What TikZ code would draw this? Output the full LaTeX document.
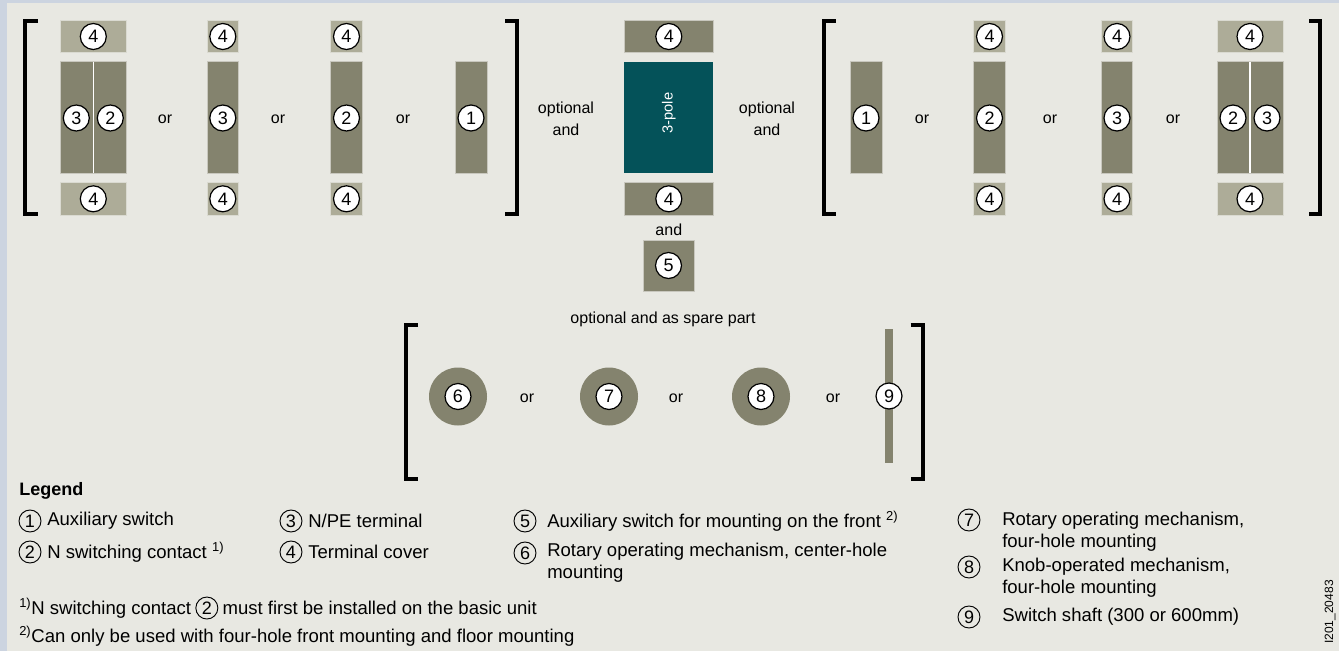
\documentclass[tikz,border=0pt]{standalone}
\usepackage{fontspec}
\setmainfont{Liberation Sans}
\usepackage{tikz}
\usetikzlibrary{positioning}
\definecolor{PaperGray}{RGB}{232,232,226}
\definecolor{FrameBlue}{RGB}{204,212,224}
\definecolor{PartOlive}{RGB}{132,131,110}
\definecolor{CoverSand}{RGB}{173,172,152}
\definecolor{PoleTeal}{RGB}{4,82,89}
\tikzset{
  part/.style={fill=PartOlive,draw=white!55!PartOlive,line width=0.5pt},
  cover/.style={fill=CoverSand,draw=white!55!CoverSand,line width=0.5pt},
  badge/.style={circle,draw=black,fill=white,line width=0.9pt,inner sep=0pt,
    minimum size=19.5pt,font=\fontsize{13.5}{13.5}\selectfont},
  lbadge/.style={circle,draw=black,line width=0.7pt,inner sep=0pt,
    minimum size=16.5pt,font=\fontsize{13.5}{13.5}\selectfont},
  word/.style={inner sep=0pt,font=\fontsize{12}{16.5}\selectfont,align=center},
  legtext/.style={inner sep=0pt,anchor=west,align=left,font=\fontsize{13.9}{16.5}\selectfont},
  brk/.style={draw=black,line width=3pt,line join=miter},
}
\begin{document}
\begin{tikzpicture}[x=0.75pt,y=-0.75pt]
\fill[FrameBlue] (0,0) rectangle (1339,651);
\fill[PaperGray] (7,3) rectangle (1339,651);
\useasboundingbox (0,0) rectangle (1339,651);
% basic unit in the middle
\draw[part] (624.3,20.7) rectangle (713.3,52.3);
\fill[PoleTeal] (624.3,61.7) rectangle (713.3,173.3);
\draw[part] (624.3,182.7) rectangle (713.3,215);
\draw[part] (643,240) rectangle (694,291);
\node[badge] (Ctop) at (668.8,36.5) {4};
\node[rotate=90,text=white,inner sep=0pt,font=\fontsize{11}{11}\selectfont] (pole) at (668.8,113) {3-pole};
\node[badge] (Cbot) at (668.8,198.8) {4};
\node[word] (Cand) at (668.8,230) {and};
\node[badge] (front) at (668.5,265.5) {5};
\node[word] (Lopt) at (566,119) {optional\\and};
\node[word] (Ropt) at (767,119) {optional\\and};
% add-on parts left and right
\foreach \cx/\num/\tag in {222.8/3/La,346.5/2/Lb,989.5/2/Rb,1117/3/Rc} {
  \draw[cover] (\cx-15.8,20.7) rectangle (\cx+15.8,52.3);
  \draw[part] (\cx-15.8,61.7) rectangle (\cx+15.8,173.3);
  \draw[cover] (\cx-15.8,182.7) rectangle (\cx+15.8,215);
  \node[badge] (\tag top) at (\cx,36.5) {4};
  \node[badge] (\tag mid) at (\cx,118) {\num};
  \node[badge] (\tag bot) at (\cx,198.8) {4};
}
\foreach \cx/\a/\b/\tag in {93.3/3/2/Lp,1250/2/3/Rp} {
  \draw[cover] (\cx-33,20.7) rectangle (\cx+33,52.3);
  \draw[part] (\cx-33,61.7) rectangle (\cx+33,173.3);
  \draw[white,line width=0.8pt] (\cx,61.7) -- (\cx,173.3);
  \draw[cover] (\cx-33,182.7) rectangle (\cx+33,215);
  \node[badge] (\tag top) at (\cx,36.5) {4};
  \node[badge] (\tag left) at (\cx-17,118) {\a};
  \node[badge] (\tag right) at (\cx+17,118) {\b};
  \node[badge] (\tag bot) at (\cx,198.8) {4};
}
\foreach \cx/\tag in {471/La,866/Ra} {
  \draw[part] (\cx-16,61.7) rectangle (\cx+16,173.3);
  \node[badge] (\tag aux) at (\cx,118) {1};
}
\foreach \x/\tag in {165/a,278/b,403/c,922/d,1050/e,1173/f}
  \node[word] (or\tag) at (\x,119) {or};
\draw[brk] (38,21.3) -| (25.3,214) -- (38,214);
\draw[brk] (505,21.3) -| (517.2,214) -- (505,214);
\draw[brk] (835.5,21.3) -| (823.8,214) -- (835.5,214);
\draw[brk] (1309,21.3) -| (1320.4,214) -- (1309,214);
% operating mechanisms
\node[word] (spare) at (663,319) {optional and as spare part};
\foreach \cx/\num in {458/6,609/7,761/8} {
  \fill[PartOlive] (\cx,396.5) circle[radius=29];
  \node[badge] (mech\num) at (\cx,396.5) {\num};
}
\fill[PartOlive] (885,329.3) rectangle (893.3,463.3);
\node[badge] (shaft) at (889,396) {9};
\foreach \x/\tag in {527/g,676/h,833/i}
  \node[word] (or\tag) at (\x,398) {or};
\draw[brk] (418,325.3) -| (406.2,478.7) -- (418,478.7);
\draw[brk] (910.7,324.7) -| (922.8,478.7) -- (910.7,478.7);
% legend
\node[legtext,font=\bfseries\fontsize{13.5}{13.5}\selectfont] (legend) at (19,491) {Legend};
\foreach \n/\bx/\by/\tx/\ty/\txt in {
  1/30/521/47/521/{Auxiliary switch},
  2/30/552/47/552/{N switching contact \textsuperscript{1)}},
  3/291/521/308/521/{N/PE terminal},
  4/291/552/308/552/{Terminal cover},
  5/525/521/547/521/{Auxiliary switch for mounting on the front \textsuperscript{2)}},
  6/525/553/547/563/{Rotary operating mechanism, center-hole\\mounting},
  7/969/520/1002/531.5/{Rotary operating mechanism,\\four-hole mounting},
  8/969/567/1002/578/{Knob-operated mechanism,\\four-hole mounting},
  9/969/617/1002/617/{Switch shaft (300 or 600mm)}} {
  \node[lbadge] (key\n) at (\bx,\by) {\n};
  \node[legtext] (keytext\n) at (\tx,\ty) {\txt};
}
\node[legtext] (noteA) at (19,608) {\textsuperscript{1)}N switching contact};
\node[lbadge,right=3pt of noteA] (noteB) {2};
\node[legtext,right=3pt of noteB] (noteC) {must first be installed on the basic unit};
\node[legtext] (noteD) at (19,636) {\textsuperscript{2)}Can only be used with four-hole front mounting and floor mounting};
\node[rotate=90,inner sep=0pt,font=\fontsize{9}{9}\selectfont] (imgid) at (1330,612) {I201\_20483};
\end{tikzpicture}
\end{document}
